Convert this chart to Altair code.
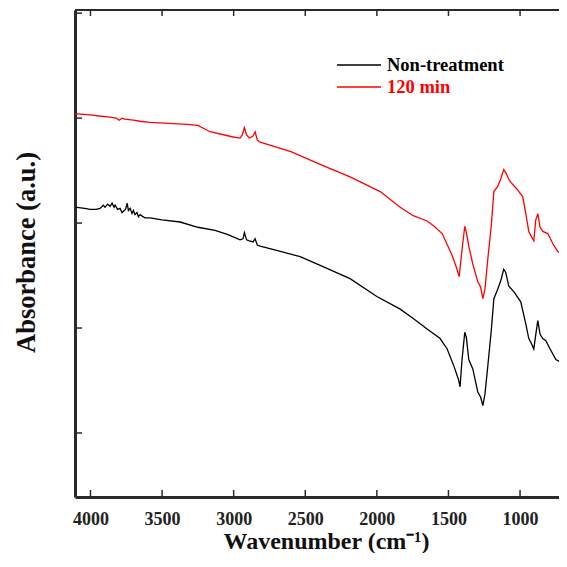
import altair as alt
import pandas as pd

series_names = ["Non-treatment", "120 min"]
series_colors = ["#000000", "#ff0000"]

wn_black = [4108, 4094, 4040, 4003, 3960, 3933, 3910, 3898, 3880, 3863, 3849, 3835, 3828, 3810, 3793,
            3780, 3765, 3755, 3744, 3735, 3723, 3710, 3700, 3689, 3675, 3665, 3654, 3620, 3584, 3500,
            3374, 3250, 3130, 3040, 2955, 2935, 2925, 2910, 2890, 2865, 2850, 2835, 2815, 2700, 2536,
            2400, 2187, 2000, 1837, 1746, 1649, 1558, 1509, 1460, 1430, 1419, 1405, 1386, 1375, 1358,
            1330, 1295, 1275, 1260, 1245, 1225, 1200, 1183, 1156, 1135, 1114, 1100, 1079, 1040, 995,
            960, 939, 920, 904, 890, 876, 860, 841, 820, 790, 750, 700, 667, 650]
abs_black = [2.15, 2.15, 2.14, 2.13, 2.13, 2.14, 2.17, 2.15, 2.18, 2.16, 2.19, 2.15, 2.17, 2.13, 2.14,
             2.10, 2.12, 2.13, 2.19, 2.12, 2.14, 2.09, 2.12, 2.08, 2.10, 2.06, 2.08, 2.05, 2.05, 2.03,
             2.01, 1.96, 1.93, 1.89, 1.84, 1.85, 1.91, 1.84, 1.83, 1.82, 1.85, 1.79, 1.78, 1.74, 1.68,
             1.60, 1.47, 1.30, 1.18, 1.09, 0.99, 0.90, 0.80, 0.63, 0.51, 0.44, 0.70, 0.96, 0.91, 0.70,
             0.61, 0.39, 0.34, 0.26, 0.37, 0.64, 0.99, 1.28, 1.37, 1.45, 1.56, 1.53, 1.40, 1.34, 1.25,
             1.04, 0.90, 0.85, 0.80, 0.94, 1.07, 0.94, 0.90, 0.88, 0.80, 0.70, 0.66, 0.61, 0.59]

wn_red = [4108, 4094, 4000, 3940, 3863, 3820, 3800, 3780, 3760, 3700, 3654, 3584, 3450, 3325, 3250,
          3165, 3004, 2955, 2940, 2925, 2910, 2890, 2865, 2850, 2835, 2815, 2600, 2396, 2187, 1977,
          1837, 1746, 1649, 1600, 1544, 1474, 1440, 1425, 1405, 1386, 1375, 1358, 1330, 1295, 1275,
          1260, 1245, 1225, 1200, 1183, 1156, 1135, 1114, 1100, 1079, 1065, 1020, 981, 960, 939,
          920, 904, 890, 876, 860, 841, 806, 770, 737, 700, 667, 650]
abs_red = [3.04, 3.04, 3.03, 3.02, 3.01, 3.00, 2.98, 3.00, 2.99, 2.98, 2.97, 2.96, 2.95, 2.94, 2.93,
           2.87, 2.82, 2.81, 2.84, 2.91, 2.84, 2.81, 2.83, 2.87, 2.79, 2.77, 2.68, 2.56, 2.44, 2.30,
           2.15, 2.07, 2.02, 1.97, 1.90, 1.69, 1.56, 1.49, 1.75, 1.97, 1.91, 1.78, 1.61, 1.44, 1.39,
           1.28, 1.37, 1.66, 1.99, 2.30, 2.35, 2.42, 2.51, 2.48, 2.42, 2.39, 2.32, 2.25, 2.09, 1.92,
           1.87, 1.83, 2.03, 2.09, 1.96, 1.92, 1.90, 1.80, 1.73, 1.70, 1.64, 1.62]

x_ticks = [4000, 3500, 3000, 2500, 2000, 1500, 1000]
y_ticks = [0, 1, 2, 3, 4]
x_domain = [4108, 728]
y_domain = [-0.61, 4.03]

W, H = 484, 487
FONT = "Liberation Serif"
AXC = "#2a2a2a"

df = pd.concat([
    pd.DataFrame({"wn": wn_black, "a": abs_black, "series": series_names[0]}),
    pd.DataFrame({"wn": wn_red, "a": abs_red, "series": series_names[1]}),
])

xscale = alt.Scale(domain=x_domain, nice=False, zero=False)
yscale = alt.Scale(domain=y_domain, nice=False, zero=False)
cscale = alt.Scale(domain=series_names, range=series_colors)

x_axis = alt.Axis(
    values=x_ticks, format="d", ticks=False, grid=False, domainWidth=3, domainColor=AXC,
    labelFont=FONT, labelFontSize=18, labelFontWeight="bold", labelColor="#222",
    labelPadding=13, labelFlush=False, labelOverlap=False,
    title="Wavenumber (cm⁻¹)", titleFont=FONT, titleFontSize=24, titleFontWeight="bold",
    titleColor="#111", titleX=251, titleY=51, titleBaseline="alphabetic")
y_axis = alt.Axis(
    values=y_ticks, ticks=False, labels=False, grid=False, domainWidth=3, domainColor=AXC,
    title="Absorbance (a.u.)", titleFont=FONT, titleFontSize=26.5, titleFontWeight="bold",
    titleColor="#111", titleAngle=270, titleX=-41, titleY=242, titleBaseline="alphabetic")

lines = alt.Chart(df).mark_line(strokeWidth=1.3, clip=True).encode(
    x=alt.X("wn:Q", scale=xscale, axis=x_axis),
    y=alt.Y("a:Q", scale=yscale, axis=y_axis),
    color=alt.Color("series:N", scale=cscale, legend=None),
    detail="series:N",
)

yt = alt.Chart(pd.DataFrame({"wn": [4000] * len(y_ticks), "a": y_ticks})).mark_rule(
    strokeWidth=1.5, color=AXC).encode(
    y=alt.Y("a:Q", scale=yscale, axis=y_axis), x=alt.value(0), x2=alt.value(7))
xt_df = pd.DataFrame({"wn": x_ticks})
xt_bot = alt.Chart(xt_df).mark_rule(strokeWidth=1.5, color=AXC).encode(
    x=alt.X("wn:Q", scale=xscale, axis=x_axis), y=alt.value(H), y2=alt.value(H - 7))
xt_top = alt.Chart(xt_df).mark_rule(strokeWidth=1.5, color=AXC).encode(
    x=alt.X("wn:Q", scale=xscale, axis=x_axis), y=alt.value(0), y2=alt.value(6))
top_border = alt.Chart(pd.DataFrame({"k": [0]})).mark_rule(strokeWidth=2, color=AXC).encode(
    x=alt.value(0), x2=alt.value(W), y=alt.value(0))

leg_layers = []
for i, name in enumerate(series_names):
    ldf = pd.DataFrame({"series": [name]})
    yy = 55 + 22 * i
    leg_layers.append(alt.Chart(ldf).mark_rule(strokeWidth=1.5).encode(
        x=alt.value(262), x2=alt.value(306), y=alt.value(yy),
        color=alt.Color("series:N", scale=cscale, legend=None)))
    leg_layers.append(alt.Chart(ldf).mark_text(
        align="left", baseline="middle", font=FONT, fontSize=18.5, fontWeight="bold").encode(
        x=alt.value(312), y=alt.value(yy), text="series:N",
        color=alt.Color("series:N", scale=cscale, legend=None)))

chart = alt.layer(lines, yt, xt_bot, xt_top, top_border, *leg_layers).properties(
    width=W, height=H,
    autosize=alt.AutoSizeParams(type="none"),
    padding={"left": 67, "top": 2, "right": 0, "bottom": 56},
).configure_view(stroke="transparent")

chart.save("out.html", embed_options={"renderer": "svg", "actions": False})
